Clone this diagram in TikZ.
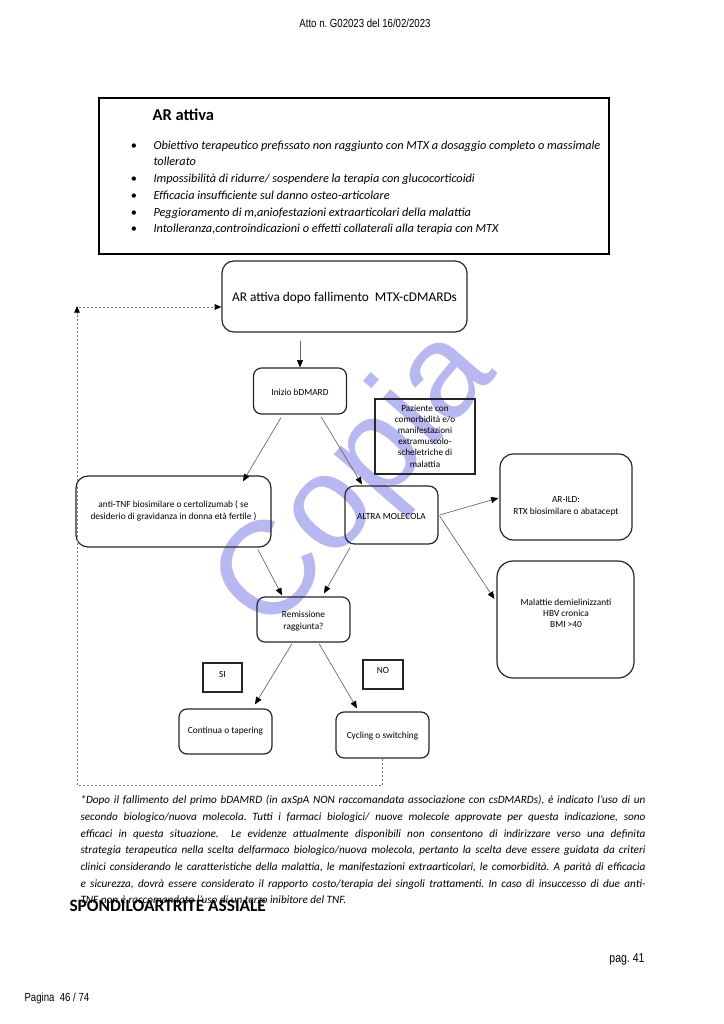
\documentclass[tikz,border=0pt]{standalone}
\usepackage{fontspec}
\setmainfont{Carlito}
\newfontfamily\hdrfont[FakeStretch=0.82]{Liberation Sans}
\newfontfamily\markfont{Liberation Sans}
\usetikzlibrary{arrows.meta,calc}

\definecolor{markblue}{RGB}{165,165,238}

\tikzset{every picture/.style={line width=0.75pt}}
\tikzset{
  boxsize/.style 2 args={minimum width=#1*0.75pt, minimum height=#2*0.75pt},
  rbox/.style={draw=black!85, line width=0.9pt, rounded corners=#1, inner sep=0pt},
  rbox/.default=7pt,
  sbox/.style={draw=black!85, line width=0.8pt, inner sep=0pt},
  boxtext/.style={align=center, inner sep=0pt, font=\fontsize{7}{8.3}\selectfont},
  arr/.style={draw=black!60, line width=0.5pt, -{Triangle[length=5.5pt,width=4.5pt,color=black]}},
  backarr/.style={draw=black!55, line width=0.5pt, dash pattern=on 1.5pt off 1.5pt, -{Triangle[length=5pt,width=4.2pt,color=black]}}
}

\begin{document}
\frenchspacing
\begin{tikzpicture}[x=0.75pt,y=0.75pt,yscale=-1,xscale=1]
\useasboundingbox (0,0) rectangle (724,1024);

% Watermark
\node (mark) [rotate=49, text=markblue, text opacity=0.8, inner sep=0pt] at (358,482) {\markfont\fontsize{100}{100}\selectfont Copia};

% Text Node
\node (hdr) at (365,23) {\hdrfont\fontsize{8.8}{10}\selectfont Atto n. G02023 del 16/02/2023};

%Shape: Rectangle
\node (crit) [draw=black, line width=2.2pt, boxsize={510}{156}] at (354,176) {};
% Text Node
\node (crittitle) [anchor=base west, inner sep=0pt] at (152,120) {\fontsize{12.4}{14}\selectfont\bfseries AR attiva};
% Text Node
\foreach \y/\txt in {149/{Obiettivo terapeutico prefissato non raggiunto con MTX a dosaggio completo o massimale},
                     165/{tollerato},
                     182/{Impossibilità di ridurre/ sospendere la terapia con glucocorticoidi},
                     199/{Efficacia insufficiente sul danno osteo-articolare},
                     216/{Peggioramento di m,aniofestazioni extraarticolari della malattia},
                     232/{Intolleranza,controindicazioni o effetti collaterali alla terapia con MTX}}
  \node [anchor=base west, inner sep=0pt, font=\fontsize{9.2}{12}\selectfont\itshape] at (153,\y) {\txt};
\foreach \y in {149,182,199,216,232}
  \node [anchor=base, inner sep=0pt, font=\fontsize{9.2}{12}\selectfont] at (134,\y) {\textbullet};

%Shape: Rounded Rect [AR attiva dopo fallimento]
\node (start) [rbox=9pt, boxsize={245}{71}] at (344.5,296.5) {};
%Shape: Rounded Rect [Inizio bDMARD]
\node (bdmard) [rbox=6pt, boxsize={93}{46}] at (300,391) {};
%Shape: Rectangle [Paziente con]
\node (patient) [sbox, boxsize={100}{75}] at (425,436.5) {};
%Shape: Rounded Rect [anti-TNF]
\node (antitnf) [rbox=9pt, boxsize={195}{71}] at (173.5,511.5) {};
%Shape: Rounded Rect [ALTRA MOLECOLA]
\node (other) [rbox=7pt, boxsize={93}{58}] at (391.5,515) {};
%Shape: Rounded Rect [AR-ILD]
\node (ild) [rbox=10pt, boxsize={132}{86}] at (566,497) {};
%Shape: Rounded Rect [Malattie demielinizzanti]
\node (demyel) [rbox=12pt, boxsize={137}{117}] at (565.5,619.5) {};
%Shape: Rounded Rect [Remissione]
\node (remiss) [rbox=6pt, boxsize={93}{45}] at (303.5,619.5) {};
%Shape: Rectangle [SI]
\node (yes) [sbox, boxsize={39}{29}] at (222.5,677.5) {};
%Shape: Rectangle [NO]
\node (no) [sbox, boxsize={40}{29}] at (383,674.5) {};
%Shape: Rounded Rect [Continua]
\node (keep) [rbox=6pt, boxsize={93}{45}] at (225.5,731.5) {};
%Shape: Rounded Rect [Cycling]
\node (cycle) [rbox=6pt, boxsize={93}{46}] at (382.5,735) {};

% Text Node
\node [boxtext, font=\fontsize{10}{12}\selectfont] at (344.5,298) {AR attiva dopo fallimento \ MTX-cDMARDs};
% Text Node
\node [boxtext] at (300,392) {Inizio bDMARD};
% Text Node
\node [boxtext, font=\fontsize{6.9}{8.4}\selectfont] at (425,436) {Paziente con\\comorbidità e/o\\manifestazioni\\extramuscolo-\\scheletriche di\\malattia};
% Text Node
\node [boxtext, font=\fontsize{7}{8.6}\selectfont] at (173.5,511) {anti-TNF biosimilare o certolizumab ( se\\desiderio di gravidanza in donna età fertile )};
% Text Node
\node [boxtext] at (391.5,516) {ALTRA MOLECOLA};
% Text Node
\node [boxtext, font=\fontsize{7}{9}\selectfont] at (566,506) {AR-ILD:\\RTX biosimilare o abatacept};
% Text Node
\node [boxtext] at (566,613) {Malattie demielinizzanti\\HBV cronica\\BMI >40};
% Text Node
\node [boxtext, font=\fontsize{7}{9}\selectfont] at (303.5,621) {Remissione\\raggiunta?};
% Text Node
\node [boxtext] at (222.5,674) {SI};
% Text Node
\node [boxtext] at (383,670) {NO};
% Text Node
\node [boxtext] at (225.5,731) {Continua o tapering};
% Text Node
\node [boxtext] at (382.5,736) {Cycling o switching};

%Straight Lines
\draw [arr] ($(start.south -| bdmard.north)+(0,8)$) -- (bdmard.north);
\draw [arr] ($(bdmard.south)+(-19,3)$) -- ($(antitnf.north)+(69.5,6)$);
\draw [arr] ($(bdmard.south)+(21,2)$) -- ($(other.north)+(-29.5,-1)$);
\draw [arr] ($(antitnf.south)+(84.5,2)$) -- ($(remiss.north)+(-21.5,-1)$);
\draw [arr] ($(other.south)+(-41.5,3)$) -- ($(remiss.north)+(20.5,-3)$);
\draw [arr] ($(other.east)+(1,0)$) -- ($(ild.west)+(-1,1)$);
\draw [arr] ($(other.east)+(1,1)$) -- ($(demyel.west)+(-2,-20.5)$);
\draw [arr] ($(remiss.south)+(-11.5,1)$) -- ($(keep.north)+(29.5,-4)$);
\draw [arr] ($(remiss.south)+(15.5,1)$) -- ($(cycle.north)+(-25.5,-3)$);

%Dashed Lines
\coordinate (backlow) at (77,785);
\coordinate (backtop) at (77,306);
\draw [backarr] (cycle.south) |- (backlow) -- (backtop);
\draw [backarr] ($(backtop)+(2,1)$) -- ($(start.west)+(0,10.5)$);

% Text Node
\node (note) [anchor=north west, text width=423.75pt, align=justify, inner sep=0pt, font=\fontsize{8.4}{12.5}\selectfont\itshape] at (80,795)
{*Dopo il fallimento del primo bDAMRD (in axSpA NON raccomandata associazione con csDMARDs), è indicato l’uso di un\linebreak
secondo biologico/nuova molecola. Tutti i farmaci biologici/ nuove molecole approvate per questa indicazione, sono\linebreak
efficaci in questa situazione.\ \ Le evidenze attualmente disponibili non consentono di indirizzare verso una definita\linebreak
strategia terapeutica nella scelta delfarmaco biologico/nuova molecola, pertanto la scelta deve essere guidata da criteri\linebreak
clinici considerando le caratteristiche della malattia, le manifestazioni extraarticolari, le comorbidità. A parità di efficacia\linebreak
e sicurezza, dovrà essere considerato il rapporto costo/terapia dei singoli trattamenti. In caso di insuccesso di due anti-\linebreak
TNF non è raccomandato l’uso di un terzo inibitore del TNF.};

% Text Node
\node (section) [anchor=base west, inner sep=0pt] at (69,911) {\fontsize{13}{15}\selectfont\bfseries SPONDILOARTRITE ASSIALE};

% Text Node
\node (pag) [anchor=base east, inner sep=0pt] at (645,962) {\hdrfont\fontsize{9.6}{11}\selectfont pag. 41};
% Text Node
\node (pagina) [anchor=base west, inner sep=0pt] at (24,1001) {\hdrfont\fontsize{8.8}{10}\selectfont Pagina \ 46 / 74};

\end{tikzpicture}
\end{document}
